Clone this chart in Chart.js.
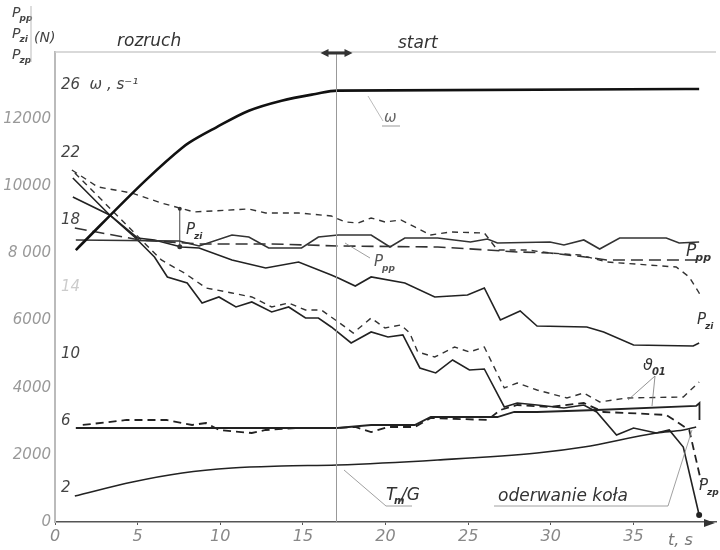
<!DOCTYPE html>
<html><head><meta charset="utf-8">
<script src="https://cdn.jsdelivr.net/npm/chart.js@4"></script>
<style>html,body{margin:0;padding:0;background:#fff}</style>
</head><body>
<canvas id="c" width="720" height="550"></canvas>
<script>
// ---- tick labels ----
const xTickValues = [0,5,10,15,20,25,30,35];
const xTickLabels = ['0','5','10','15','20','25','30','35'];
const yTickValues = [0,2000,4000,6000,8000,10000,12000];
const yTickLabels = ['0','2000','4000','6000','8 000','10000','12000'];
const omegaTickValues = [2,6,10,14,18,22,26];
const omegaTickLabels = ['2','6','10','14','18','22','26  ω , s⁻¹'];

// ---- series (t in s) ----
// angular speed ω [s^-1]
const omegaT = [1.26,5.53,7.70,8.12,9.74,11.73,13.71,15.76,17.08,38.98];
const omegaV = [16.2,20.4,22.3,22.6,23.5,24.5,25.1,25.5,25.7,25.8];

// P_pp solid [N]
const ppSolidT = [1.26,7.52,8.72,10.71,11.73,12.93,14.92,15.94,17.14,19.13,20.27,21.17,23.16,25.14,26.17,26.77,29.95,30.80,32.00,32.96,34.17,36.99,37.77,38.98];
const ppSolidN = [8401,8371,8222,8550,8490,8162,8162,8490,8550,8550,8192,8460,8460,8341,8431,8311,8341,8252,8401,8133,8460,8460,8311,8341];

// P_pp dashed [N]
const ppDashT = [1.20,5.11,8.72,13.11,17.14,23.16,26.17,27.97,29.95,32.60,33.38,37.77,38.80];
const ppDashN = [8758,8401,8282,8282,8222,8192,8103,8043,8014,7865,7805,7805,7805];

// P_zi dashed [N]
const ziDashT = [1.02,2.59,4.63,6.44,8.42,11.73,12.75,14.74,16.72,17.56,18.35,19.13,19.97,20.93,21.77,22.74,23.94,25.98,26.77,28.57,29.95,31.76,33.38,37.59,38.38,38.98,39.10];
const ziDashN = [10486,9980,9801,9503,9235,9324,9205,9205,9116,8937,8907,9056,8937,8997,8788,8550,8639,8609,8103,8103,8014,7954,7745,7596,7299,6822,6673];

// P_zi solid [N]
const ziSolidT = [1.08,3.31,4.99,6.02,7.64,8.72,10.71,12.75,14.74,16.72,17.14,18.17,19.13,21.17,22.98,24.96,25.98,26.95,28.15,29.17,32.18,33.20,35.01,38.62,38.98];
const ziSolidN = [9682,9146,8460,8401,8192,8162,7805,7567,7745,7358,7269,7030,7299,7120,6703,6762,6971,6018,6286,5839,5809,5660,5273,5243,5332];

// P_zp solid [N]
const zpSolidT = [1.08,3.31,4.81,6.02,6.80,8.00,8.90,9.92,10.95,11.91,13.11,14.14,15.16,15.94,16.72,17.92,19.13,20.15,21.05,22.08,23.04,24.06,25.08,25.98,27.19,27.97,29.17,30.80,32.00,32.78,33.98,35.01,36.39,37.17,38.02,38.98];
const zpSolidN = [10248,9146,8490,7894,7299,7120,6524,6703,6405,6554,6256,6405,6077,6077,5809,5332,5660,5511,5571,4588,4439,4826,4528,4558,3426,3545,3485,3396,3485,3277,2592,2800,2651,2741,2234,209];

// P_zp dashed [N]
const zpDashT = [1.20,3.43,5.23,6.44,7.82,9.14,10.71,11.91,13.11,14.14,15.16,16.12,17.14,18.05,19.13,19.97,20.93,21.47,21.95,22.98,24.18,25.08,25.98,27.19,27.97,29.17,30.98,32.00,32.96,34.59,38.02,38.98];
const zpDashN = [10397,9294,8401,7805,7418,6971,6822,6703,6405,6524,6315,6315,5958,5630,6077,5779,5869,5630,5064,4915,5213,5064,5213,3992,4141,3932,3694,3843,3575,3694,3724,4171];

// ϑ01 solid
const thSolidT = [1.26,8.72,17.08,19.13,21.77,22.74,26.77,27.79,29.17,32.78,38.80,39.0,39.0];
const thSolidN = [2800,2800,2800,2890,2890,3128,3128,3277,3277,3336,3456,3545,3039];

// ϑ01 dashed
const thDashT = [1.68,4.33,6.74,8.30,9.14,9.92,11.91,12.75,14.74,17.08,18.17,19.13,20.15,21.77,22.74,26.17,26.95,27.97,29.95,32.00,33.20,34.59,36.99,38.38,38.98,39.10];
const thDashN = [2890,3039,3039,2890,2949,2741,2651,2741,2800,2800,2830,2681,2830,2830,3098,3039,3336,3485,3426,3545,3277,3247,3188,2741,1460,1192];

// T_m/G
const tgT = [1.20,4.69,7.70,10.71,13.71,17.08,23.16,29.17,32.00,36.39,38.02,38.80];
const tgN = [775,1192,1460,1609,1668,1698,1847,2056,2234,2651,2741,2830];

const pts = (ts, vs) => ts.map((t, i) => ({x: t, y: vs[i]}));
const INK = '#222';

function ds(data, opts) {
  return Object.assign({data, borderColor: INK, borderWidth: 1.6, pointRadius: 0, fill: false, tension: 0}, opts);
}

const datasets = [
  ds(pts(omegaT, omegaV), {yAxisID: 'y2', borderWidth: 2.6, borderColor: '#111', cubicInterpolationMode: 'monotone'}),
  ds(pts(ppSolidT, ppSolidN), {borderColor: '#333'}),
  ds(pts(ppDashT, ppDashN), {borderDash: [12, 6], borderColor: '#333'}),
  ds(pts(ziDashT, ziDashN), {borderDash: [6, 5], borderColor: '#333', borderWidth: 1.4}),
  ds(pts(ziSolidT, ziSolidN), {}),
  ds(pts(zpSolidT, zpSolidN), {pointRadius: c => c.dataIndex === zpSolidT.length - 1 ? 3 : 0, pointBackgroundColor: INK, pointBorderWidth: 0}),
  ds(pts(zpDashT, zpDashN), {borderDash: [6, 5], borderColor: '#333', borderWidth: 1.4}),
  ds(pts(thSolidT, thSolidN), {borderWidth: 1.8}),
  ds(pts(thDashT, thDashN), {borderDash: [8, 5], borderWidth: 1.8}),
  ds(pts(tgT, tgN), {cubicInterpolationMode: 'monotone'})
];

function sub(ctx, base, s, x, y, size) {
  ctx.font = 'italic ' + size + 'px "DejaVu Sans"';
  ctx.textAlign = 'left';
  ctx.textBaseline = 'alphabetic';
  ctx.fillText(base, x, y);
  const w = ctx.measureText(base).width;
  ctx.font = 'italic bold ' + Math.round(size * 0.62) + 'px "DejaVu Sans"';
  ctx.fillText(s, x + w - 1, y + size * 0.3);
}
function line(ctx, pts, w, col) {
  ctx.beginPath();
  ctx.moveTo(pts[0][0], pts[0][1]);
  for (let i = 1; i < pts.length; i++) ctx.lineTo(pts[i][0], pts[i][1]);
  ctx.lineWidth = w; ctx.strokeStyle = col; ctx.setLineDash([]); ctx.stroke();
}

const annot = {
  id: 'annot',
  afterDatasetsDraw(chart) {
    const {ctx, chartArea: a, scales: {x, y}} = chart;
    ctx.save();
    // top frame line
    line(ctx, [[a.left, a.top], [a.right, a.top]], 1.5, '#ccc');
    // start line at t = 17
    const xs = Math.round(x.getPixelForValue(17)) + 0.5;
    line(ctx, [[xs, a.top], [xs, a.bottom]], 1, '#999');
    // double arrow at top
    line(ctx, [[xs - 12, a.top + 1], [xs + 12, a.top + 1]], 3, '#333');
    ctx.fillStyle = '#333';
    ctx.beginPath(); ctx.moveTo(xs - 16, a.top + 1); ctx.lineTo(xs - 8, a.top - 3); ctx.lineTo(xs - 8, a.top + 5); ctx.fill();
    ctx.beginPath(); ctx.moveTo(xs + 16, a.top + 1); ctx.lineTo(xs + 8, a.top - 3); ctx.lineTo(xs + 8, a.top + 5); ctx.fill();
    // x axis arrow
    ctx.beginPath(); ctx.moveTo(a.right - 1, a.bottom + 1); ctx.lineTo(a.right - 12, a.bottom - 3); ctx.lineTo(a.right - 12, a.bottom + 5); ctx.fill();

    ctx.fillStyle = '#333';
    ctx.textBaseline = 'alphabetic';
    ctx.font = 'italic 17px "DejaVu Sans"';
    ctx.textAlign = 'left';
    ctx.fillText('rozruch', 117, 46);
    ctx.fillText('start', 398, 48);

    // y axis title
    ctx.fillStyle = '#444';
    sub(ctx, 'P', 'pp', 12, 17, 14);
    sub(ctx, 'P', 'zi', 12, 38, 14);
    sub(ctx, 'P', 'zp', 12, 59, 14);
    line(ctx, [[31, 6], [31, 62]], 1, '#bbb');
    ctx.fillStyle = '#444';
    ctx.font = 'italic 14px "DejaVu Sans"';
    ctx.textAlign = 'left';
    ctx.fillText('(N)', 34, 42);

    // P_zi arrow
    const xa = x.getPixelForValue(7.55);
    line(ctx, [[xa, y.getPixelForValue(9330)], [xa, y.getPixelForValue(8200)]], 1, '#444');
    ctx.fillStyle = '#333';
    ctx.beginPath(); ctx.arc(xa, y.getPixelForValue(9330), 2, 0, 7); ctx.fill();
    ctx.beginPath(); ctx.arc(xa, y.getPixelForValue(8200), 2.5, 0, 7); ctx.fill();
    sub(ctx, 'P', 'zi', 186, 234, 15);

    // P_pp label middle
    line(ctx, [[345, 243], [370, 258]], 0.8, '#888');
    ctx.fillStyle = '#555';
    sub(ctx, 'P', 'pp', 374, 266, 15);
    // P_pp right
    ctx.fillStyle = '#333';
    sub(ctx, 'P', 'pp', 686, 256, 17);
    // P_zi right
    sub(ctx, 'P', 'zi', 697, 324, 15);
    // P_zp right
    sub(ctx, 'P', 'zp', 699, 490, 15);

    // omega label
    line(ctx, [[368, 96], [383, 121]], 0.8, '#aaa');
    ctx.fillStyle = '#666';
    ctx.font = 'italic 15px "DejaVu Sans"';
    ctx.fillText('ω', 384, 122);
    line(ctx, [[382, 126], [400, 126]], 1, '#999');

    // ϑ01 label
    ctx.fillStyle = '#333';
    sub(ctx, 'ϑ', '01', 643, 370, 16);
    line(ctx, [[655, 376], [628, 400]], 0.8, '#777');
    line(ctx, [[655, 376], [652, 406]], 0.8, '#777');

    // T_m/G
    line(ctx, [[344, 470], [386, 506], [412, 506]], 0.8, '#888');
    ctx.fillStyle = '#333';
    ctx.font = 'italic 17px "DejaVu Sans"';
    ctx.fillText('T', 386, 500);
    ctx.font = 'italic bold 10px "DejaVu Sans"';
    ctx.fillText('m', 394, 504);
    ctx.font = 'italic 17px "DejaVu Sans"';
    ctx.fillText('/G', 401, 500);

    // oderwanie koła
    ctx.font = 'italic 17px "DejaVu Sans"';
    ctx.fillText('oderwanie koła', 498, 501);
    line(ctx, [[494, 506], [668, 506], [692, 430]], 0.8, '#888');

    // t, s
    ctx.fillStyle = '#777';
    ctx.font = 'italic 16px "DejaVu Sans"';
    ctx.fillText('t, s', 668, 545);
    ctx.restore();
  }
};

new Chart(document.getElementById('c'), {
  type: 'line',
  data: {datasets},
  plugins: [annot],
  options: {
    responsive: false,
    animation: false,
    events: [],
    layout: {padding: {top: 52, right: 0, left: 0, bottom: 0}},
    plugins: {legend: {display: false}, tooltip: {enabled: false}, title: {display: false}},
    scales: {
      x: {
        type: 'linear', min: 0, max: 40,
        afterBuildTicks: s => { s.ticks = xTickValues.map(v => ({value: v})); },
        afterFit: s => { s.height = 28; },
        ticks: {
          callback: (v, i) => xTickLabels[i],
          color: '#888', padding: 2, maxRotation: 0,
          font: {family: 'DejaVu Sans', size: 16, style: 'italic'}
        },
        grid: {drawOnChartArea: false, drawTicks: true, tickLength: 3, color: '#555'},
        border: {display: true, color: '#555', width: 1.6}
      },
      y: {
        type: 'linear', position: 'left', weight: 10, min: 0, max: 14000,
        afterBuildTicks: s => { s.ticks = yTickValues.map(v => ({value: v})); },
        afterFit: s => { s.width = 55; },
        ticks: {
          callback: (v, i) => yTickLabels[i],
          color: '#999', padding: 4,
          font: {family: 'DejaVu Sans', size: 15, style: 'italic'}
        },
        grid: {display: false, drawTicks: false},
        border: {display: true, color: '#bbb', width: 2}
      },
      y2: {
        type: 'linear', position: 'left', weight: 0, min: 0, max: 28,
        afterBuildTicks: s => { s.ticks = omegaTickValues.map(v => ({value: v})); },
        afterFit: s => { s.width = 0; },
        ticks: {
          mirror: true, padding: 6,
          callback: (v, i) => omegaTickLabels[i],
          color: c => (c.tick && c.tick.value === 14) ? '#ccc' : '#444',
          font: {family: 'DejaVu Sans', size: 15, style: 'italic'}
        },
        grid: {display: false, drawTicks: false},
        border: {display: false}
      }
    }
  }
});
</script>
</body></html>
